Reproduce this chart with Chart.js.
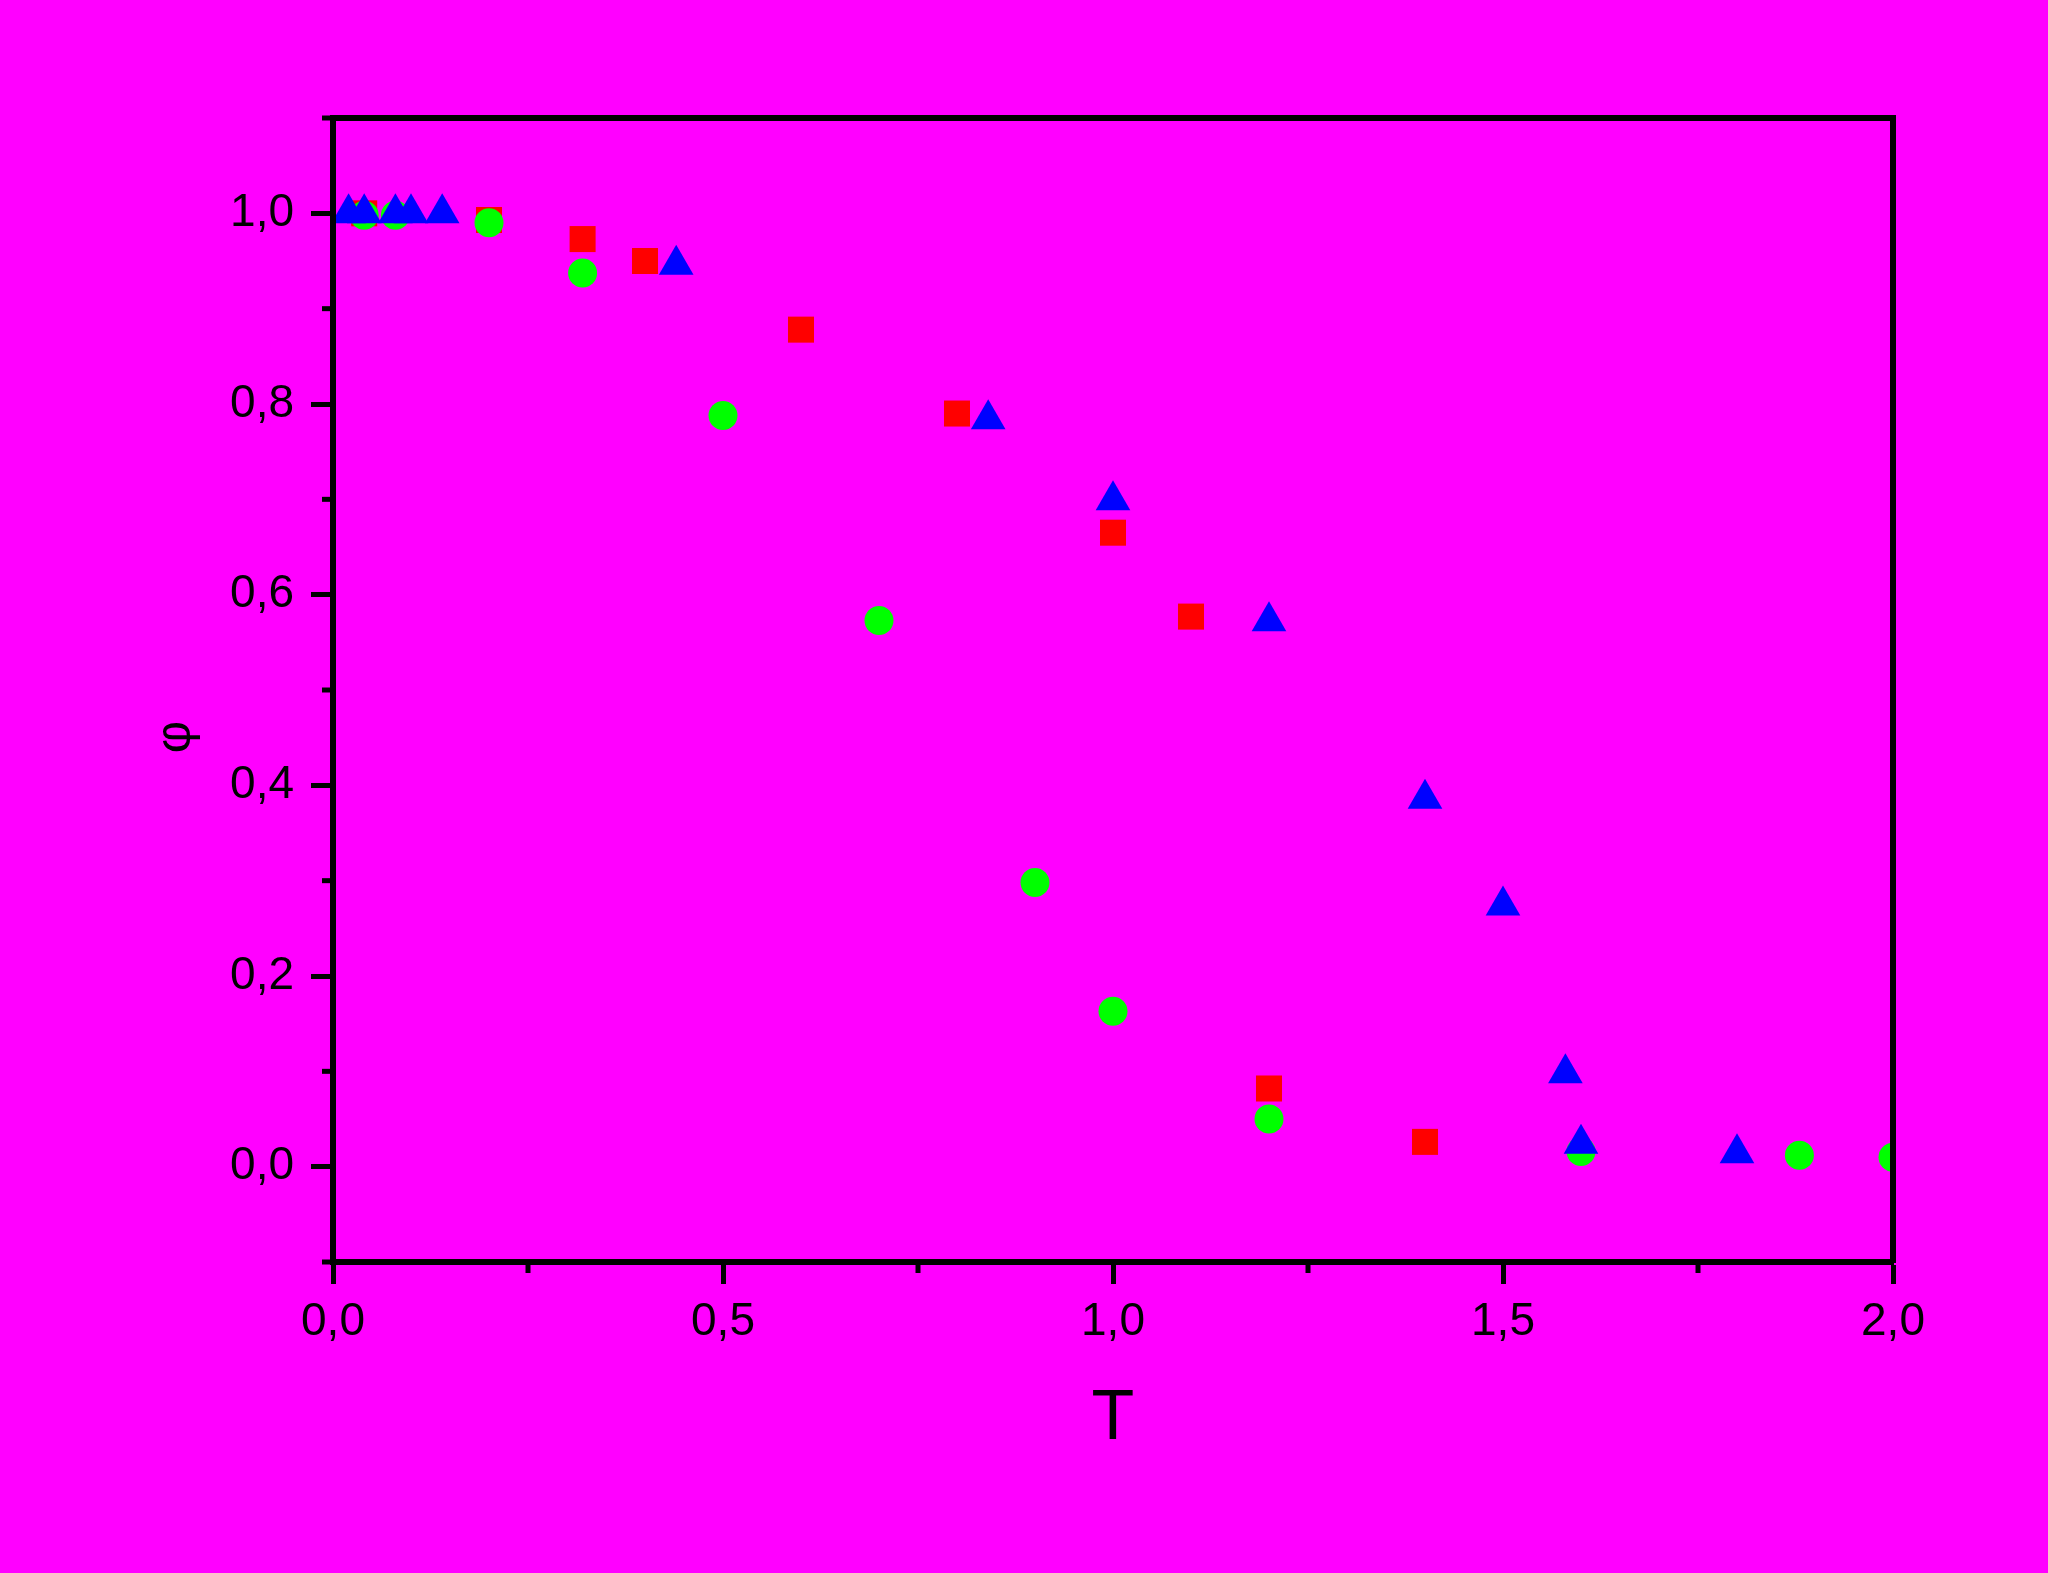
<!DOCTYPE html>
<html>
<head>
  <script src="https://cdn.jsdelivr.net/npm/chart.js"></script>
  <style>
    body { margin: 0; background: #ff00ff; }
    canvas { display: block; background: #ff00ff; }
  </style>
</head>
<body>
  <canvas id="phiChart" width="2048" height="1573"></canvas>

  <script>
    // red squares
    const squareT = [0.04, 0.2, 0.32, 0.4, 0.6, 0.8, 1.0, 1.1, 1.2, 1.4];
    const squarePhi = [1.0, 0.993, 0.973, 0.95, 0.878, 0.79, 0.665, 0.577, 0.082, 0.026];

    // green circles
    const circleT = [0.04, 0.08, 0.2, 0.32, 0.5, 0.7, 0.9, 1.0, 1.2, 1.6, 1.88, 2.0];
    const circlePhi = [0.998, 0.998, 0.99, 0.9375, 0.788, 0.573, 0.298, 0.163, 0.05, 0.016, 0.012, 0.010];

    // blue triangles
    const triangleT = [0.02, 0.04, 0.08, 0.1, 0.14, 0.44, 0.84, 1.0, 1.2, 1.4, 1.5, 1.58, 1.6, 1.8];
    const trianglePhi = [1.0, 1.0, 1.0, 1.0, 1.0, 0.946, 0.784, 0.699, 0.572, 0.386, 0.274, 0.098, 0.024, 0.014];

    const xTitle = 'T';
    const yTitle = 'φ';

    const font = '"Liberation Sans", Arial, sans-serif';
    const toPoints = (xs, ys) => xs.map((x, i) => ({ x: x, y: ys[i] }));
    const comma = v => v.toFixed(1).replace('.', ',');
    const isMajorY = v => Math.round(v * 10) % 2 === 0;
    const isMajorX = v => Math.round(v * 4) % 2 === 0;

    // short minor ticks, drawn from the scales' own tick lists
    const minorTicks = {
      id: 'minorTicks',
      afterDraw(chart) {
        const { ctx, scales: { x, y } } = chart;
        ctx.save();
        ctx.strokeStyle = '#000';
        ctx.lineWidth = 5;
        y.ticks.forEach(t => {
          if (isMajorY(t.value)) return;
          const py = y.getPixelForValue(t.value);
          ctx.beginPath(); ctx.moveTo(y.right - 11, py); ctx.lineTo(y.right, py); ctx.stroke();
        });
        x.ticks.forEach(t => {
          if (isMajorX(t.value)) return;
          const px = x.getPixelForValue(t.value);
          ctx.beginPath(); ctx.moveTo(px, x.top); ctx.lineTo(px, x.top + 11); ctx.stroke();
        });
        ctx.restore();
      }
    };

    // y title sits a bit below the middle of the axis, like the original
    const phiTitle = {
      id: 'phiTitle',
      afterDraw(chart) {
        const { ctx, chartArea } = chart;
        ctx.save();
        ctx.translate(176, (chartArea.top + chartArea.bottom) / 2 + 47);
        ctx.rotate(-Math.PI / 2);
        ctx.font = '50px ' + font;
        ctx.fillStyle = '#000';
        ctx.textAlign = 'center';
        ctx.textBaseline = 'middle';
        ctx.fillText(yTitle, 0, 0);
        ctx.restore();
      }
    };

    const frameAxis = (position, fit) => ({
      type: 'linear', position: position, min: 0, max: 1,
      ticks: { display: false },
      grid: { drawOnChartArea: false, drawTicks: false, z: 1 },
      border: { color: '#000', width: 6, z: 1 },
      afterFit: fit
    });

    new Chart(document.getElementById('phiChart'), {
      type: 'scatter',
      data: {
        datasets: [
          {
            label: 'squares',
            data: toPoints(squareT, squarePhi),
            pointStyle: 'rect',
            pointRadius: 18.4,
            pointBackgroundColor: '#ff0000',
            pointBorderWidth: 0,
            order: 3
          },
          {
            label: 'circles',
            data: toPoints(circleT, circlePhi),
            pointStyle: 'circle',
            pointRadius: 14.5,
            pointBackgroundColor: '#00ff00',
            pointBorderWidth: 0,
            order: 2
          },
          {
            label: 'triangles',
            data: toPoints(triangleT, trianglePhi),
            pointStyle: 'triangle',
            pointRadius: 20,
            pointBackgroundColor: '#0000ff',
            pointBorderWidth: 0,
            order: 1
          }
        ]
      },
      options: {
        responsive: false,
        animation: false,
        clip: 0,
        layout: { padding: { left: 0, top: 118, right: 155, bottom: 0 } },
        plugins: { legend: { display: false }, tooltip: { enabled: false } },
        scales: {
          x: {
            type: 'linear', position: 'bottom', min: 0, max: 2,
            afterFit: s => { s.height = 311; },
            ticks: {
              stepSize: 0.25, autoSkip: false, maxRotation: 0, padding: 11,
              color: '#000', font: { family: font, size: 46 },
              callback: v => isMajorX(v) ? comma(v) : ''
            },
            grid: {
              drawOnChartArea: false, tickLength: 22, tickWidth: 5, z: 1,
              tickColor: c => isMajorX(c.tick.value) ? '#000' : 'rgba(0,0,0,0)'
            },
            border: { color: '#000', width: 6, z: 1 },
            title: {
              display: true, text: xTitle, color: '#000',
              font: { family: font, size: 70 }, padding: { top: 0, bottom: 111 }
            }
          },
          y: {
            type: 'linear', position: 'left', min: -0.1, max: 1.1,
            afterFit: s => { s.width = 333; },
            ticks: {
              stepSize: 0.1, autoSkip: false, padding: 17,
              color: '#000', font: { family: font, size: 46 },
              callback: v => isMajorY(v) ? comma(v) : ''
            },
            grid: {
              drawOnChartArea: false, tickLength: 22, tickWidth: 5, z: 1,
              tickColor: c => isMajorY(c.tick.value) ? '#000' : 'rgba(0,0,0,0)'
            },
            border: { color: '#000', width: 6, z: 1 }
          },
          xTop: frameAxis('top', s => { s.height = 0; }),
          yRight: frameAxis('right', s => { s.width = 0; })
        }
      },
      plugins: [minorTicks, phiTitle]
    });
  </script>
</body>
</html>
